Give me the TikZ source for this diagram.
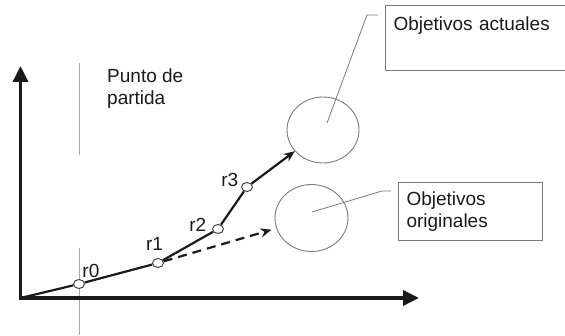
\documentclass[tikz,border=0pt]{standalone}
\usepackage{fontspec}
\setmainfont{Liberation Sans}
\usetikzlibrary{arrows.meta, positioning, calc, shapes.geometric}
\definecolor{ink}{HTML}{1A1A1A}
\definecolor{rim}{HTML}{7A7A7A}
\definecolor{guide}{HTML}{A8A8A8}

\begin{document}
\begin{tikzpicture}[x=1pt,y=1pt,
  font=\fontsize{19}{22}\selectfont, text=ink,
  axis/.style={line width=3.5pt, color=ink, {Triangle[length=16pt,width=15pt]}-{Triangle[length=16pt,width=15pt]}},
  route/.style={line width=2.2pt, color=ink},
  milestone/.style={ellipse, draw=ink!80, fill=white, line width=1pt, minimum width=11pt, minimum height=9pt, inner sep=0pt},
  tag/.style={inner sep=0pt},
  target/.style={ellipse, draw=rim, line width=0.9pt, minimum width=72pt, minimum height=66pt, inner sep=0pt},
  note/.style={draw=rim, line width=1pt, anchor=north west, align=left, inner xsep=8pt},
  callout/.style={draw=rim, line width=0.8pt},
  guideline/.style={draw=guide, line width=1pt}]
\useasboundingbox (0,0) rectangle (565,335);
\coordinate (O) at (20.5,37);
\coordinate (ytip) at (20.5,269);
\coordinate (xtip) at (419,37);
\draw[guideline] (79,272) -- (79,180);
\draw[guideline] (79,87) -- (79,0);
\draw[axis] (ytip) -- (O) -- (xtip);
\node[align=left, anchor=north west, inner sep=0pt] (start) at (107,266.5) {Punto de\\partida};
\node[milestone] (p0) at (79,51) {};
\node[milestone] (p1) at (158,72) {};
\node[milestone] (p2) at (218,106) {};
\node[milestone] (p3) at (247,148) {};
\node[tag, above right=2.8pt and -1pt of p0] (r0) {r0};
\node[tag, above=7.5pt of p1, xshift=-3.5pt] (r1) {r1};
\node[tag, left=5.5pt of p2, yshift=4.5pt] (r2) {r2};
\node[tag, left=2.5pt of p3, yshift=7pt] (r3) {r3};
\node[target] (act) at (323,205) {};
\node[target, minimum width=73pt, minimum height=67pt] (ori) at (311.5,117) {};
\draw[route] (O) -- (p0) -- (p1) -- (p2) -- (p3);
\draw[route, -{Stealth[length=11pt,width=9pt]}] (p3) -- (act);
\draw[route, dash pattern=on 9pt off 6pt, -{Stealth[length=11pt,width=9pt]}, shorten >=5pt] (p1) -- (ori);
\node[note, text width=166pt, text height=13.5pt, text depth=28.5pt, inner ysep=11.5pt] (actual) at (385,330) {Objetivos actuales};
\node[note, text width=128pt, inner ysep=9pt] (orig) at (398,153) {Objetivos\\originales};
\coordinate (c1) at (367,320);
\coordinate (c2) at (382,144);
\draw[callout] ($(act.center)+(4,7)$) -- (c1) -- ($(c1 -| actual.west)+(-7,0)$);
\draw[callout] ($(ori.center)+(0.5,6)$) -- (c2) -- ($(c2 -| orig.west)+(-7,0)$);
\end{tikzpicture}
\end{document}
